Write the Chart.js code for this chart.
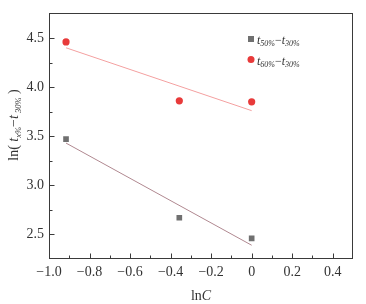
<!DOCTYPE html>
<html><head><meta charset="utf-8">
<script src="https://cdn.jsdelivr.net/npm/chart.js@4/dist/chart.umd.min.js"></script>
<style>html,body{margin:0;padding:0;background:#fff;}canvas{display:block;}</style>
</head><body>
<canvas id="c" width="366" height="304"></canvas>
<script>
// Data
const lnC = [-0.916, -0.357, 0];
const t50_t30 = [3.47, 2.67, 2.46];
const t60_t30 = [4.46, 3.86, 3.85];
const fitX = [-0.916, 0];
const fit50 = [3.43, 2.39];
const fit60 = [4.40, 3.76];
const xTicks = [-1.0, -0.8, -0.6, -0.4, -0.2, 0, 0.2, 0.4];
const xMinor = [-0.9, -0.7, -0.5, -0.3, -0.1, 0.1, 0.3];
const yTicks = [2.5, 3.0, 3.5, 4.0, 4.5];
const yMinor = [2.75, 3.25, 3.75, 4.25];

const pts = (xs, ys) => xs.map((x, i) => ({x: x, y: ys[i]}));
const FONT = '"Liberation Serif", "Times New Roman", serif';
const AX = '#3a3a3a';

function richText(ctx, parts, x, y) {
  let cx = x;
  for (const p of parts) {
    ctx.font = (p[2] ? 'italic ' : '') + p[1] + 'px ' + FONT;
    ctx.fillText(p[0], cx, y + (p[3] || 0));
    cx += ctx.measureText(p[0]).width;
  }
  return cx - x;
}
function measureRich(ctx, parts) {
  let w = 0;
  for (const p of parts) { ctx.font = (p[2] ? 'italic ' : '') + p[1] + 'px ' + FONT; w += ctx.measureText(p[0]).width; }
  return w;
}

const decor = {
  id: 'decor',
  beforeDatasetsDraw(chart) {
    const ctx = chart.ctx, a = chart.chartArea, xs = chart.scales.x, ys = chart.scales.y;
    ctx.save();
    ctx.strokeStyle = AX; ctx.lineWidth = 1;
    ctx.strokeRect(Math.round(a.left) + 0.5, Math.round(a.top) + 0.5, Math.round(a.right - a.left) - 1, Math.round(a.bottom - a.top) - 1);
    ctx.beginPath();
    const B = Math.round(a.bottom) - 0.5, L = Math.round(a.left) + 0.5;
    xTicks.forEach(v => { const px = Math.round(xs.getPixelForValue(v)) + 0.5; ctx.moveTo(px, B); ctx.lineTo(px, B - 5); });
    xMinor.forEach(v => { const px = Math.round(xs.getPixelForValue(v)) + 0.5; ctx.moveTo(px, B); ctx.lineTo(px, B - 3); });
    yTicks.forEach(v => { const py = Math.round(ys.getPixelForValue(v)) + 0.5; ctx.moveTo(L, py); ctx.lineTo(L + 5, py); });
    yMinor.forEach(v => { const py = Math.round(ys.getPixelForValue(v)) + 0.5; ctx.moveTo(L, py); ctx.lineTo(L + 3, py); });
    ctx.stroke();
    ctx.restore();
  },
  afterDraw(chart) {
    const ctx = chart.ctx, a = chart.chartArea;
    ctx.save();
    ctx.fillStyle = '#333';
    ctx.textBaseline = 'alphabetic';
    ctx.textAlign = 'left';
    const xt = [['ln', 14, false], ['C', 14, true]];
    const wx = measureRich(ctx, xt);
    richText(ctx, xt, (a.left + a.right) / 2 - wx / 2, 300);
    const yt = [['ln(', 14, false], [' t', 14, true], ['x%', 8.5, true, 3], ['\u2212', 14, false], ['t', 14, true], [' 30%', 8.5, true, 3], [' )', 14, false]];
    const wy = measureRich(ctx, yt);
    ctx.translate(18, 125);
    ctx.rotate(-Math.PI / 2);
    richText(ctx, yt, -wy / 2, 0);
    ctx.restore();

    ctx.save();
    ctx.fillStyle = '#707070';
    ctx.fillRect(248, 36, 6, 6);
    ctx.fillStyle = '#e83a3a';
    ctx.beginPath(); ctx.arc(251, 59.5, 3.5, 0, Math.PI * 2); ctx.fill();
    ctx.fillStyle = '#333';
    richText(ctx, [['t', 12, true], ['50%', 8, true, 2], ['\u2212', 12, false], ['t', 12, true], ['30%', 8, true, 2]], 257, 44);
    richText(ctx, [['t', 12, true], ['60%', 8, true, 2], ['\u2212', 12, false], ['t', 12, true], ['30%', 8, true, 2]], 257, 65);
    ctx.restore();
  }
};

new Chart(document.getElementById('c'), {
  type: 'scatter',
  data: {
    datasets: [
      {label: 'fit50', data: pts(fitX, fit50), showLine: true, borderColor: '#b08890', borderWidth: 1, pointRadius: 0, order: 3},
      {label: 'fit60', data: pts(fitX, fit60), showLine: true, borderColor: '#f4a0a0', borderWidth: 1, pointRadius: 0, order: 3},
      {label: 't50%-t30%', data: pts(lnC, t50_t30), pointStyle: 'rect', pointRadius: 4, backgroundColor: '#707070', borderColor: '#707070', borderWidth: 0, order: 1},
      {label: 't60%-t30%', data: pts(lnC, t60_t30), pointStyle: 'circle', pointRadius: 3.6, backgroundColor: '#e83a3a', borderColor: '#e83a3a', borderWidth: 0, order: 1}
    ]
  },
  options: {
    responsive: false,
    animation: false,
    layout: {padding: {left: 0, right: 13, top: 12, bottom: 0}},
    plugins: {legend: {display: false}, tooltip: {enabled: false}},
    scales: {
      x: {
        type: 'linear', min: -1.0, max: 0.5,
        grid: {display: false, drawTicks: false},
        border: {display: false},
        afterBuildTicks: s => { s.ticks = xTicks.map(v => ({value: v})); },
        afterFit: s => { s.height = 45; },
        ticks: {
          padding: 5, color: '#333', font: {family: FONT, size: 14}, maxRotation: 0, autoSkip: false,
          callback: v => v === 0 ? '0' : (v < 0 ? '\u2212' + Math.abs(v).toFixed(1) : v.toFixed(1))
        }
      },
      y: {
        type: 'linear', min: 2.25, max: 4.75,
        grid: {display: false, drawTicks: false},
        border: {display: false},
        afterBuildTicks: s => { s.ticks = yTicks.map(v => ({value: v})); },
        afterFit: s => { s.width = 49; },
        ticks: {padding: 5, color: '#333', font: {family: FONT, size: 14}, callback: v => v.toFixed(1)}
      }
    }
  },
  plugins: [decor]
});
</script>
</body></html>
